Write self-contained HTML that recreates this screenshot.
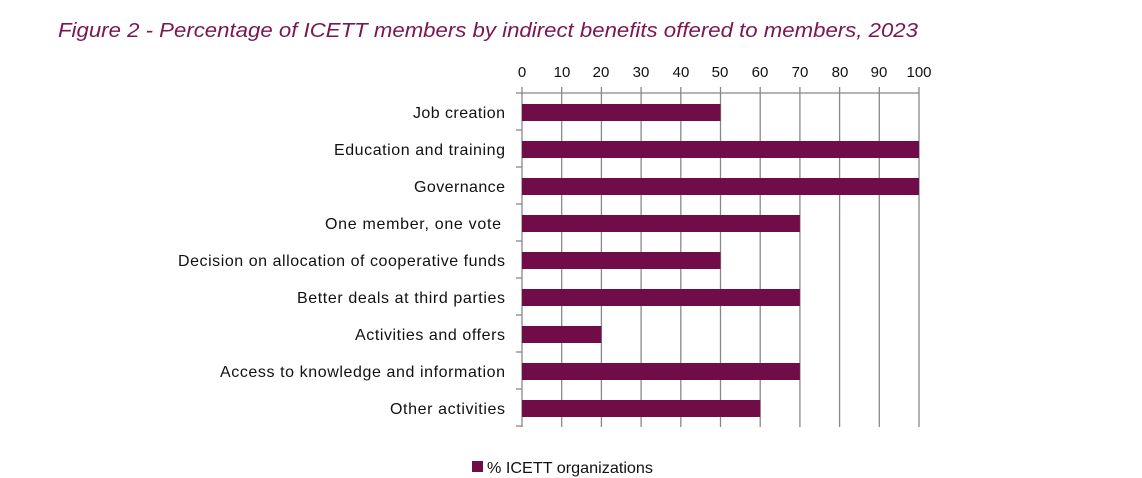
<!DOCTYPE html>
<html><head><meta charset="utf-8"><style>
html,body{margin:0;padding:0;background:#fff;}
svg{display:block;}
</style></head><body>
<svg width="1142" height="478" xmlns="http://www.w3.org/2000/svg" font-family="'Liberation Sans', sans-serif">
<text x="58" y="37" font-size="20" font-style="italic" fill="#7a1650" textLength="860" lengthAdjust="spacingAndGlyphs">Figure 2 - Percentage of ICETT members by indirect benefits offered to members, 2023</text>
<g stroke="#888" stroke-width="1.3">
<line x1="522" y1="93" x2="919" y2="93"/>
<line x1="522" y1="87" x2="522" y2="427"/>
<line x1="561.7" y1="87" x2="561.7" y2="427"/>
<line x1="601.4" y1="87" x2="601.4" y2="427"/>
<line x1="641.1" y1="87" x2="641.1" y2="427"/>
<line x1="680.8" y1="87" x2="680.8" y2="427"/>
<line x1="720.5" y1="87" x2="720.5" y2="427"/>
<line x1="760.2" y1="87" x2="760.2" y2="427"/>
<line x1="799.9" y1="87" x2="799.9" y2="427"/>
<line x1="839.6" y1="87" x2="839.6" y2="427"/>
<line x1="879.3" y1="87" x2="879.3" y2="427"/>
<line x1="919" y1="87" x2="919" y2="427"/>
<line x1="516" y1="93" x2="522" y2="93"/>
<line x1="516" y1="130" x2="522" y2="130"/>
<line x1="516" y1="167" x2="522" y2="167"/>
<line x1="516" y1="204" x2="522" y2="204"/>
<line x1="516" y1="241" x2="522" y2="241"/>
<line x1="516" y1="278" x2="522" y2="278"/>
<line x1="516" y1="315" x2="522" y2="315"/>
<line x1="516" y1="352" x2="522" y2="352"/>
<line x1="516" y1="389" x2="522" y2="389"/>
<line x1="516" y1="426" x2="522" y2="426"/>
</g>
<g font-size="15" fill="#111" text-anchor="middle">
<text x="522" y="77">0</text><text x="562" y="77">10</text><text x="601" y="77">20</text><text x="641" y="77">30</text><text x="681" y="77">40</text><text x="720" y="77">50</text><text x="760" y="77">60</text><text x="800" y="77">70</text><text x="840" y="77">80</text><text x="879" y="77">90</text><text x="919" y="77">100</text>
</g>
<g fill="#700c48">
<rect x="522" y="104" width="198.5" height="17"/>
<rect x="522" y="141" width="397" height="17"/>
<rect x="522" y="178" width="397" height="17"/>
<rect x="522" y="215" width="277.9" height="17"/>
<rect x="522" y="252" width="198.5" height="17"/>
<rect x="522" y="289" width="277.9" height="17"/>
<rect x="522" y="326" width="79.4" height="17"/>
<rect x="522" y="363" width="277.9" height="17"/>
<rect x="522" y="400" width="238.2" height="17"/>
</g>
<g font-size="16" fill="#111" lengthAdjust="spacingAndGlyphs">
<text x="413" y="118" textLength="92">Job creation</text>
<text x="334" y="155" textLength="171">Education and training</text>
<text x="414" y="192" textLength="91">Governance</text>
<text x="325" y="229" textLength="176">One member, one vote</text>
<text x="178" y="266" textLength="327">Decision on allocation of cooperative funds</text>
<text x="297" y="303" textLength="208">Better deals at third parties</text>
<text x="355" y="340" textLength="150">Activities and offers</text>
<text x="220" y="377" textLength="285">Access to knowledge and information</text>
<text x="390" y="414" textLength="115">Other activities</text>
</g>
<rect x="472" y="461" width="11" height="11" fill="#700c48"/>
<text x="487" y="473" font-size="16" fill="#111" textLength="166" lengthAdjust="spacingAndGlyphs">% ICETT organizations</text>
</svg>
</body></html>
